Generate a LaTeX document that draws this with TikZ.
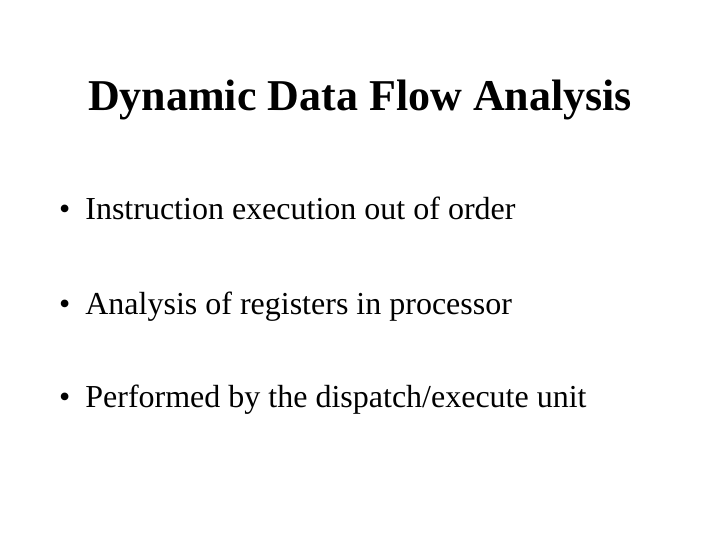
\documentclass[tikz,border=0pt]{standalone}
\usepackage{fontspec}
\setmainfont{Liberation Serif}
\begin{document}
\begin{tikzpicture}[x=1pt,y=1pt,
  bul/.style={anchor=base west,inner sep=0pt,font=\fontsize{32}{36}\selectfont}]
\useasboundingbox[fill=white] (0,0) rectangle (720,-540);
\node[anchor=base,inner sep=0pt,font=\fontsize{44}{48}\selectfont\bfseries] (t) at (360,-111) {Dynamic Data Flow Analysis};
\node[bul] (b1) at (59,-220) {\textbullet\hspace{15pt}Instruction execution out of order};
\node[bul] (b2) at (59,-314) {\textbullet\hspace{15pt}Analysis of registers in processor};
\node[bul] (b3) at (59,-407) {\textbullet\hspace{15pt}Performed by the dispatch/execute unit};
\end{tikzpicture}
\end{document}
